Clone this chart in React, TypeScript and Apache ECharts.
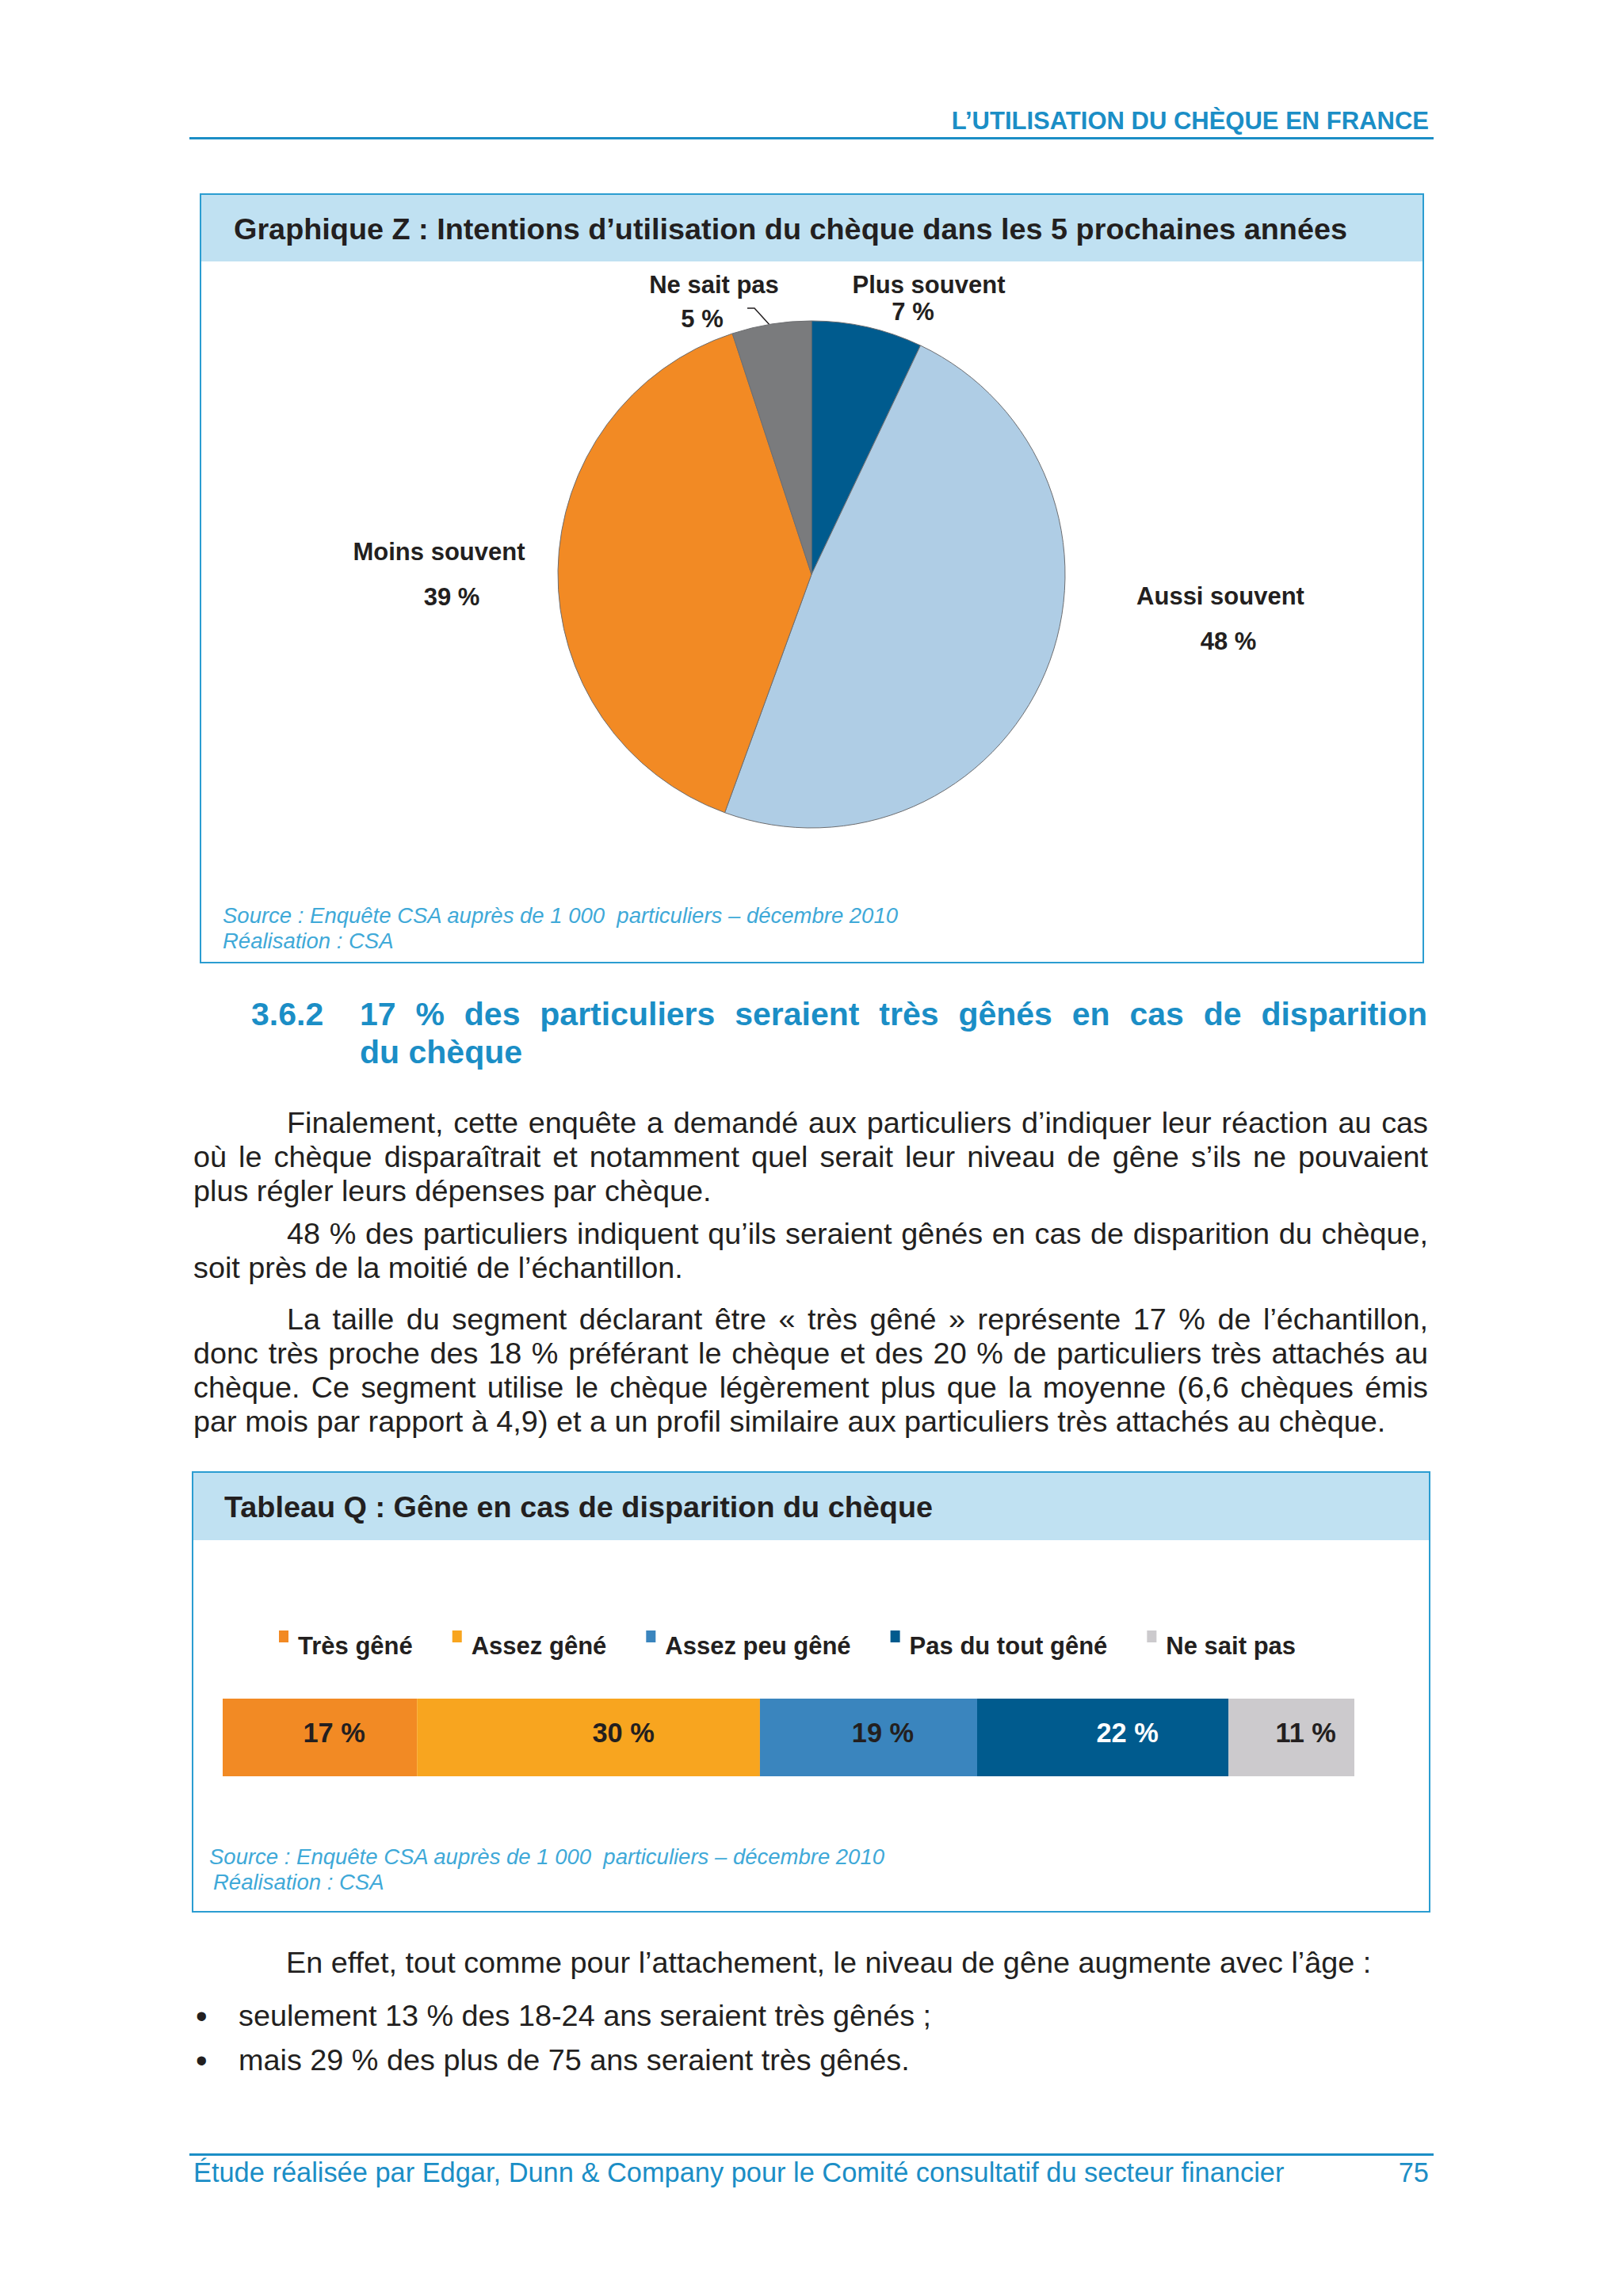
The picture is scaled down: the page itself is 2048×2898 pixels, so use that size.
import React, { useEffect, useRef } from "react";
import * as echarts from "echarts";

// ---------- Data ----------
const pieNames = ["Plus souvent", "Aussi souvent", "Moins souvent", "Ne sait pas"];
const pieValues = [7, 48, 39, 5];

const barCategory = ["Gêne en cas de disparition du chèque"];
const barNames = ["Très gêné", "Assez gêné", "Assez peu gêné", "Pas du tout gêné", "Ne sait pas"];
const barValues = [17, 30, 19, 22, 11];

// ---------- Styles ----------
const FONT = "'Liberation Sans', Arial, Helvetica, sans-serif";
const TEXT = "#231f20";
const BLUE = "#1b8ec6";
const SRC = "#3fa9d8";
const BORDER = "#2b9dd1";
const BAND = "#c0e1f2";

const pieColors = ["#005b8e", "#afcde5", "#f28a24", "#7a7b7d"];
const pieLabelLineHeights = [34, 57, 57, 43];
const pieLabelAnchors = [
  [1172, 376.3],
  [1540, 780.8],
  [554, 724.8],
  [901, 380.8],
];
// horizontal shift of the percentage line relative to the name line
const pieValueShift = [-20, 10, 16, -15];

const barColors = ["#f28a24", "#f8a51f", "#3a85be", "#005b8e", "#cccacd"];
const barLabelColors = [TEXT, TEXT, TEXT, "#ffffff", TEXT];
const barLabelShift = [18, 44, 18, 31, 18];

const barTotal = barValues.reduce((a, b) => a + b, 0);

function buildOption() {
  const labelFont = { fontSize: 31, fontWeight: "bold", color: TEXT, fontFamily: FONT };
  const pieSeries: any = {
    type: "pie",
    center: [1024, 725],
    radius: 320,
    startAngle: 90,
    clockwise: true,
    avoidLabelOverlap: false,
    silent: true,
    emphasis: { disabled: true },
    itemStyle: { borderColor: "#6d6e71", borderWidth: 1 },
    label: {
      show: true,
      position: "outside",
      formatter: (p: any) => `{n|${p.name}}\n{v|${p.value} %}`,
      ...labelFont,
    },
    labelLine: { show: false, lineStyle: { color: TEXT, width: 1.5 } },
    labelLayout: (p: any) => {
      const a = pieLabelAnchors[p.dataIndex];
      const out: any = { x: a[0], y: a[1], align: "center", verticalAlign: "middle" };
      if (p.dataIndex === 3) {
        out.labelLinePoints = [
          [943, 389],
          [952, 389],
          [972, 411],
        ];
      }
      return out;
    },
    data: pieNames.map((name, i) => {
      const s = pieValueShift[i];
      const lh = pieLabelLineHeights[i];
      return {
        name,
        value: pieValues[i],
        itemStyle: { color: pieColors[i] },
        label: {
          lineHeight: lh,
          rich: {
            n: { ...labelFont, lineHeight: lh },
            v: {
              ...labelFont,
              lineHeight: lh,
              padding: s >= 0 ? [0, 0, 0, 2 * s] : [0, -2 * s, 0, 0],
            },
          },
        },
        labelLine: { show: i === 3 },
      };
    }),
  };

  const barSeries = barNames.map((name, i) => ({
    name,
    type: "bar",
    stack: "gene",
    barWidth: "100%",
    silent: true,
    emphasis: { disabled: true },
    data: [barValues[i]],
    itemStyle: { color: barColors[i] },
    label: {
      show: true,
      position: "inside",
      formatter: "{c} %",
      color: barLabelColors[i],
      fontSize: 34.4,
      fontWeight: "bold",
      fontFamily: FONT,
      offset: [barLabelShift[i], -6],
    },
  }));

  const srcStyle = (text: string) => ({
    text,
    fill: SRC,
    fontSize: 27.5,
    fontStyle: "italic",
    fontFamily: FONT,
    textAlign: "left",
    verticalAlign: "middle",
  });

  return {
    animation: false,
    title: [
      {
        text: "Graphique Z : Intentions d’utilisation du chèque dans les 5 prochaines années",
        left: 295,
        top: 270,
        padding: 0,
        textStyle: { fontSize: 37.8, fontWeight: "bold", color: TEXT, fontFamily: FONT },
      },
      {
        text: "Tableau Q : Gêne en cas de disparition du chèque",
        left: 283,
        top: 1883,
        padding: 0,
        textStyle: { fontSize: 37.8, fontWeight: "bold", color: TEXT, fontFamily: FONT },
      },
    ],
    legend: {
      data: barNames,
      left: 352,
      top: 2058,
      padding: 0,
      itemWidth: 19,
      itemHeight: 39,
      itemGap: 50,
      // visible square sits at the top-left of the icon box; an invisible speck widens it
      icon: "path://M0,0L12,0L12,15L0,15Z M18.95,38.95L19,38.95L19,39L18.95,39Z",
      selectedMode: false,
      textStyle: { fontSize: 31, fontWeight: "bold", color: TEXT, fontFamily: FONT },
    },
    grid: { left: 281, top: 2144, width: 1428, height: 98, containLabel: false },
    xAxis: { type: "value", min: 0, max: barTotal, show: false },
    yAxis: { type: "category", data: barCategory, show: false },
    graphic: {
      elements: [
        { type: "rect", silent: true, z: 0, shape: { x: 253, y: 245, width: 1543, height: 85 }, style: { fill: BAND } },
        { type: "rect", silent: true, z: 1, shape: { x: 253, y: 245, width: 1543, height: 970 }, style: { fill: "none", stroke: BORDER, lineWidth: 2 } },
        { type: "rect", silent: true, z: 0, shape: { x: 243, y: 1858, width: 1561, height: 86 }, style: { fill: BAND } },
        { type: "rect", silent: true, z: 1, shape: { x: 243, y: 1858, width: 1561, height: 555 }, style: { fill: "none", stroke: BORDER, lineWidth: 2 } },
        { type: "text", silent: true, x: 281, y: 1155.5, style: srcStyle("Source : Enquête CSA auprès de 1 000  particuliers – décembre 2010") },
        { type: "text", silent: true, x: 281, y: 1187.5, style: srcStyle("Réalisation : CSA") },
        { type: "text", silent: true, x: 264, y: 2343.5, style: srcStyle("Source : Enquête CSA auprès de 1 000  particuliers – décembre 2010") },
        { type: "text", silent: true, x: 269, y: 2375.5, style: srcStyle("Réalisation : CSA") },
      ],
    },
    series: [pieSeries, ...barSeries],
  };
}

// ---------- Page text ----------
type LineDef = { text: string; indent?: boolean; last?: boolean };
const para1: LineDef[] = [
  { text: "Finalement, cette enquête a demandé aux particuliers d’indiquer leur réaction au cas", indent: true },
  { text: "où le chèque disparaîtrait et notamment quel serait leur niveau de gêne s’ils ne pouvaient" },
  { text: "plus régler leurs dépenses par chèque.", last: true },
];
const para2: LineDef[] = [
  { text: "48\u00a0% des particuliers indiquent qu’ils seraient gênés en cas de disparition du chèque,", indent: true },
  { text: "soit près de la moitié de l’échantillon.", last: true },
];
const para3: LineDef[] = [
  { text: "La taille du segment déclarant être «\u00a0très gêné\u00a0» représente 17\u00a0% de l’échantillon,", indent: true },
  { text: "donc très proche des 18\u00a0% préférant le chèque et des 20\u00a0% de particuliers très attachés au" },
  { text: "chèque. Ce segment utilise le chèque légèrement plus que la moyenne (6,6 chèques émis" },
  { text: "par mois par rapport à 4,9) et a un profil similaire aux particuliers très attachés au chèque.", last: true },
];

const BODY_F = 37.8;
const BODY_L = 43;
const BODY_OFF = BODY_L / 2 + 0.3465 * BODY_F;
const BODY_LEFT = 244;
const BODY_W = 1558;
const INDENT = 118;

function Paragraph({ lines, baseline }: { lines: LineDef[]; baseline: number }) {
  return (
    <>
      {lines.map((ln, i) => (
        <div
          key={i}
          style={{
            position: "absolute",
            left: BODY_LEFT + (ln.indent ? INDENT : 0),
            width: BODY_W - (ln.indent ? INDENT : 0),
            top: baseline + i * BODY_L - BODY_OFF,
            height: BODY_L,
            fontSize: BODY_F,
            lineHeight: `${BODY_L}px`,
            color: TEXT,
            textAlign: ln.last ? "left" : "justify",
            textAlignLast: ln.last ? "left" : "justify",
            overflow: "visible",
          } as any}
        >
          {ln.text}
        </div>
      ))}
    </>
  );
}

const headingLine1 = "17\u00a0% des particuliers seraient très gênés en cas de disparition";
const headingLine2 = "du chèque";
const bullets = [
  { t: "seulement 13\u00a0% des 18-24 ans seraient très gênés ;", b: 2558 },
  { t: "mais 29\u00a0% des plus de 75 ans seraient très gênés.", b: 2614 },
];

export default function App() {
  const ref = useRef<HTMLDivElement>(null);
  useEffect(() => {
    if (!ref.current) return;
    const chart = echarts.init(ref.current, null, { renderer: "svg" });
    chart.setOption(buildOption() as any);
    return () => chart.dispose();
  }, []);

  const HEAD_F = 41;
  const HEAD_L = 48;
  const headOff = HEAD_L / 2 + 0.3465 * HEAD_F;

  return (
    <div
      style={{
        position: "absolute",
        left: 0,
        top: 0,
        width: 2048,
        height: 2898,
        background: "#ffffff",
        overflow: "hidden",
        fontFamily: FONT,
      }}
    >
      {/* running header */}
      <div
        style={{
          position: "absolute",
          left: 0,
          width: 1803,
          top: 163 - (15.5 + 0.3465 * 31),
          fontSize: 31,
          lineHeight: "31px",
          fontWeight: 700,
          color: BLUE,
          textAlign: "right",
          whiteSpace: "nowrap",
        }}
      >
        L’UTILISATION DU CHÈQUE EN FRANCE
      </div>
      <div style={{ position: "absolute", left: 239, top: 173, width: 1570, height: 3, background: BLUE }} />

      {/* chart canvas */}
      <div ref={ref} style={{ position: "absolute", left: 0, top: 0, width: 2048, height: 2898 }} />

      {/* section heading */}
      <div
        style={{
          position: "absolute",
          left: 317,
          top: 1294 - headOff,
          fontSize: HEAD_F,
          lineHeight: `${HEAD_L}px`,
          fontWeight: 700,
          color: BLUE,
          whiteSpace: "nowrap",
        }}
      >
        3.6.2
      </div>
      <div
        style={{
          position: "absolute",
          left: 454,
          width: 1347,
          top: 1294 - headOff,
          fontSize: HEAD_F,
          lineHeight: `${HEAD_L}px`,
          fontWeight: 700,
          color: BLUE,
          textAlign: "justify",
          textAlignLast: "justify",
        } as any}
      >
        {headingLine1}
      </div>
      <div
        style={{
          position: "absolute",
          left: 454,
          top: 1294 + HEAD_L - headOff,
          fontSize: HEAD_F,
          lineHeight: `${HEAD_L}px`,
          fontWeight: 700,
          color: BLUE,
          whiteSpace: "nowrap",
        }}
      >
        {headingLine2}
      </div>

      <Paragraph lines={para1} baseline={1431} />
      <Paragraph lines={para2} baseline={1571} />
      <Paragraph lines={para3} baseline={1679} />

      {/* after table */}
      <div
        style={{
          position: "absolute",
          left: 361,
          top: 2491 - BODY_OFF,
          fontSize: BODY_F,
          lineHeight: `${BODY_L}px`,
          color: TEXT,
          whiteSpace: "nowrap",
        }}
      >
        En effet, tout comme pour l’attachement, le niveau de gêne augmente avec l’âge :
      </div>
      {bullets.map((it, i) => (
        <React.Fragment key={i}>
          <div
            style={{
              position: "absolute",
              left: 247,
              top: it.b - BODY_OFF,
              fontSize: BODY_F * 1.1,
              lineHeight: `${BODY_L}px`,
              color: TEXT,
            }}
          >
            •
          </div>
          <div
            style={{
              position: "absolute",
              left: 301,
              top: it.b - BODY_OFF,
              fontSize: BODY_F,
              lineHeight: `${BODY_L}px`,
              color: TEXT,
              whiteSpace: "nowrap",
            }}
          >
            {it.t}
          </div>
        </React.Fragment>
      ))}

      {/* footer */}
      <div style={{ position: "absolute", left: 239, top: 2718, width: 1570, height: 3, background: BLUE }} />
      <div
        style={{
          position: "absolute",
          left: 244,
          top: 2754 - (17 + 0.3465 * 34.4),
          fontSize: 34.4,
          lineHeight: "34px",
          color: BLUE,
          whiteSpace: "nowrap",
        }}
      >
        Étude réalisée par Edgar, Dunn &amp; Company pour le Comité consultatif du secteur financier
      </div>
      <div
        style={{
          position: "absolute",
          left: 0,
          width: 1803,
          top: 2754 - (17 + 0.3465 * 34.4),
          fontSize: 34.4,
          lineHeight: "34px",
          color: BLUE,
          textAlign: "right",
        }}
      >
        75
      </div>
    </div>
  );
}
